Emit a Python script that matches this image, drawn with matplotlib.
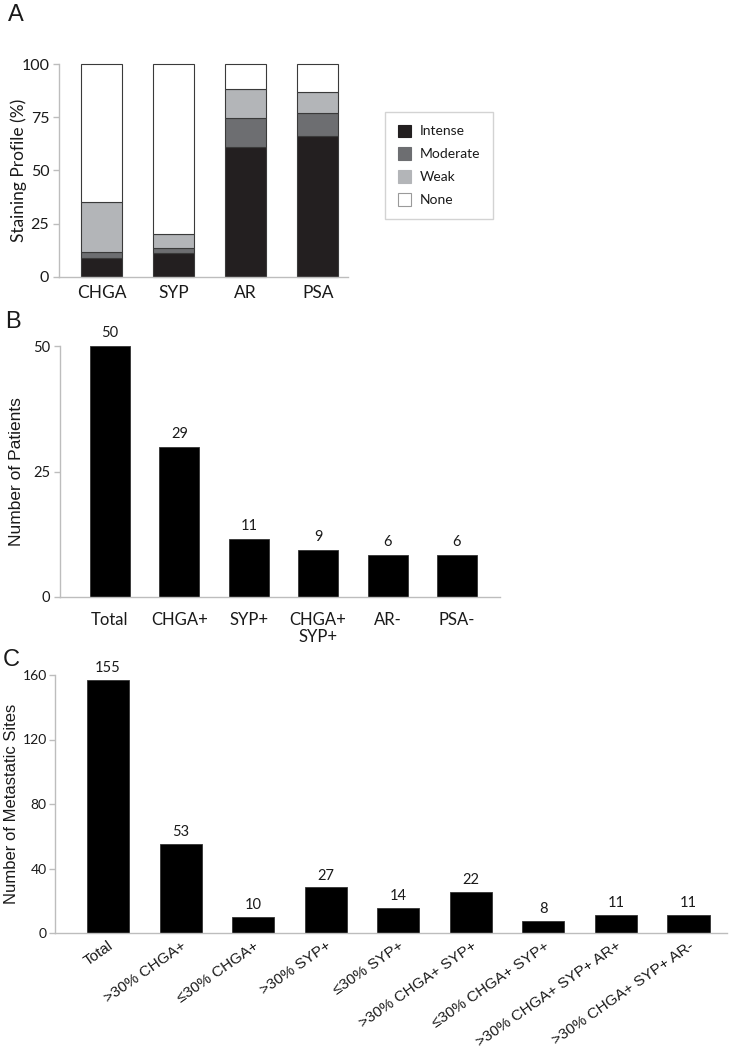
import matplotlib
matplotlib.use("Agg")
import matplotlib.pyplot as plt
import matplotlib.transforms as mtransforms
import numpy as np
from matplotlib.patches import Patch

# ---- data ----
a_categories = ["CHGA", "SYP", "AR", "PSA"]
a_intense = [8.9, 11.0, 61.1, 66.2]
a_moderate = [2.6, 2.4, 13.6, 11.0]
a_weak = [23.7, 6.6, 13.8, 9.6]
a_none = [64.8, 80.0, 11.5, 13.2]
a_series_names = ["Intense", "Moderate", "Weak", "None"]
a_ticks = [0, 25, 50, 75, 100]

b_categories = ["Total", "CHGA+", "SYP+", "CHGA+\nSYP+", "AR-", "PSA-"]
b_heights = [50, 29.9, 11.6, 9.4, 8.3, 8.3]
b_value_labels = ["50", "29", "11", "9", "6", "6"]
b_ticks = [0, 25, 50]

c_categories = ["Total", ">30% CHGA+", "≤30% CHGA+", ">30% SYP+", "≤30% SYP+",
                ">30% CHGA+ SYP+", "≤30% CHGA+ SYP+", ">30% CHGA+ SYP+ AR+",
                ">30% CHGA+ SYP+ AR-"]
c_heights = [156.9, 55.1, 9.9, 28.3, 15.3, 25.4, 7.6, 11.1, 11.1]
c_value_labels = ["155", "53", "10", "27", "14", "22", "8", "11", "11"]
c_ticks = [0, 40, 80, 120, 160]

# ---- style ----
W, H = 729, 1050
fig = plt.figure(figsize=(W / 100, H / 100), dpi=100)
SP = "#bdbdbd"
TXT = "#1a1a1a"
sans = "Lato"
arial = "Liberation Sans"


def ax_rect(x0, x1, ytop, ybot):
    return [x0 / W, 1 - ybot / H, (x1 - x0) / W, (ybot - ytop) / H]


def style(ax):
    for s in ["top", "right"]:
        ax.spines[s].set_visible(False)
    for s in ["left", "bottom"]:
        ax.spines[s].set_color(SP)
        ax.spines[s].set_linewidth(1.0)
    ax.tick_params(axis="y", direction="out", length=4, color=SP, width=1.0,
                   labelcolor=TXT, pad=3)
    ax.tick_params(axis="x", length=0, labelcolor=TXT)


# ---- Panel A ----
axA = fig.add_axes(ax_rect(59, 348, 64.3, 276.7))
style(axA)
xa = np.arange(len(a_categories))
colors = ["#231f20", "#6d6e71", "#b3b5b8", "#ffffff"]
bottom = np.zeros(len(a_categories))
for vals, col in zip([a_intense, a_moderate, a_weak, a_none], colors):
    axA.bar(xa, vals, bottom=bottom, width=0.57, color=col, edgecolor="#3a3a3a",
            linewidth=0.8, clip_on=False)
    bottom = bottom + np.array(vals)
axA.set_xlim(-0.59, 3.42)
axA.set_ylim(0, 100)
axA.set_yticks(a_ticks)
axA.set_yticklabels([str(t) for t in a_ticks], fontsize=11.5, family=sans)
axA.set_xticks(xa)
axA.set_xticklabels(a_categories, fontsize=12.5, family=sans)
axA.tick_params(axis="x", pad=6)
axA.set_ylabel("Staining Profile (%)", fontsize=12.5, family=sans, color=TXT,
               va="center")
axA.yaxis.set_label_coords((19 - 59) / 289, 0.5)

handles = [Patch(facecolor=c, edgecolor="#9a9a9a" if i == 3 else c, linewidth=0.8)
           for i, c in enumerate(colors)]
leg = fig.legend(handles, a_series_names, loc="upper left",
                 bbox_to_anchor=(385 / W, 1 - 112 / H), borderaxespad=0,
                 frameon=True, fancybox=False, edgecolor="#c8c8c8",
                 prop={"family": sans, "size": 10}, handlelength=1.0,
                 handleheight=1.0, labelspacing=0.72, handletextpad=0.6,
                 borderpad=0.9)
leg.get_frame().set_linewidth(1.0)
for t in leg.get_texts():
    t.set_color(TXT)

fig.text(8 / W, 1 - 15 / H, "A", fontsize=17, family=arial, va="center", ha="left", color=TXT)

# ---- Panel B ----
axB = fig.add_axes(ax_rect(60, 500, 346, 597))
style(axB)
xb = np.arange(len(b_categories))
axB.bar(xb, b_heights, width=0.576, color="black", edgecolor="#333333",
        linewidth=0.6, clip_on=False)
for x, h, lab in zip(xb, b_heights, b_value_labels):
    axB.text(x, h + 1.2, lab, ha="center", va="bottom", fontsize=10.5, family=sans, color=TXT)
axB.set_xlim(-0.72, 5.62)
axB.set_ylim(0, 50)
axB.set_yticks(b_ticks)
axB.set_yticklabels([str(t) for t in b_ticks], fontsize=10.5, family=sans)
axB.set_xticks(xb)
axB.set_xticklabels(b_categories, fontsize=12, family=sans, linespacing=1.05, va="top")
axB.tick_params(axis="x", pad=11)
axB.set_ylabel("Number of Patients", fontsize=12.5, family=arial, color=TXT, va="center")
axB.yaxis.set_label_coords((17 - 60) / 440, 0.5)
fig.text(5 / W, 1 - 322 / H, "B", fontsize=17, family=arial, va="center", ha="left", color=TXT)

# ---- Panel C ----
axC = fig.add_axes(ax_rect(55, 727, 675, 933))
style(axC)
xc = np.arange(len(c_categories))
axC.bar(xc, c_heights, width=0.58, color="black", edgecolor="#333333",
        linewidth=0.6, clip_on=False)
for x, h, lab in zip(xc, c_heights, c_value_labels):
    axC.text(x, h + 3, lab, ha="center", va="bottom", fontsize=10.5, family=sans, color=TXT)
axC.set_xlim(-0.73, 8.53)
axC.set_ylim(0, 160)
axC.set_yticks(c_ticks)
axC.set_yticklabels([str(t) for t in c_ticks], fontsize=10, family=sans)
axC.tick_params(axis="y", pad=2)
axC.set_xticks(xc)
axC.set_xticklabels(c_categories, fontsize=11, family=arial,
                    rotation=35, ha="right", rotation_mode="anchor")
for lbl in axC.get_xticklabels():
    lbl.set_transform(lbl.get_transform() + mtransforms.ScaledTranslation(5 / 100, 0, fig.dpi_scale_trans))
axC.tick_params(axis="x", pad=4)
axC.set_ylabel("Number of Metastatic Sites", fontsize=12, family=arial, color=TXT, va="center")
axC.yaxis.set_label_coords((12 - 55) / 672, 0.5)
fig.text(3 / W, 1 - 660 / H, "C", fontsize=17, family=arial, va="center", ha="left", color=TXT)

fig.savefig("out.png", dpi=100, facecolor="white")
